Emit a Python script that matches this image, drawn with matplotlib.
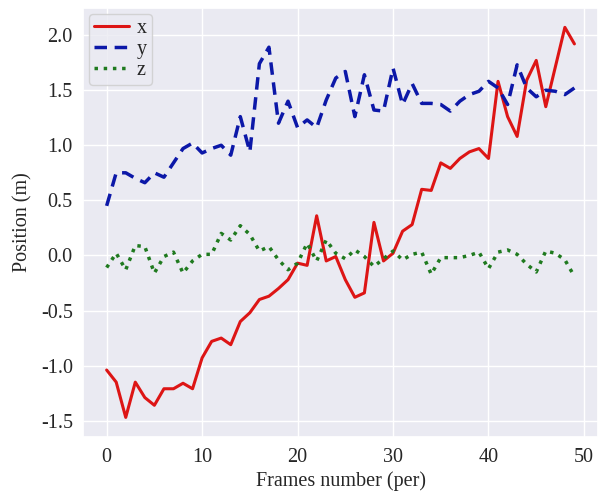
import matplotlib
matplotlib.use("Agg")
import matplotlib.pyplot as plt
import numpy as np
import seaborn as sns

# position of the tracked point per frame
frames = np.arange(50)
pos_x = [-1.04, -1.15, -1.47, -1.15, -1.29, -1.36, -1.21, -1.21, -1.16, -1.21,
         -0.93, -0.78, -0.75, -0.81, -0.60, -0.52, -0.40, -0.37, -0.30, -0.22,
         -0.07, -0.09, 0.36, -0.05, -0.01, -0.22, -0.38, -0.34, 0.30, -0.05,
         0.02, 0.22, 0.28, 0.60, 0.59, 0.84, 0.79, 0.88, 0.94, 0.97,
         0.88, 1.58, 1.26, 1.08, 1.59, 1.77, 1.35, 1.71, 2.07, 1.92]
pos_y = [0.45, 0.75, 0.75, 0.70, 0.66, 0.75, 0.71, 0.84, 0.97, 1.02,
         0.93, 0.97, 1.00, 0.91, 1.26, 0.94, 1.74, 1.89, 1.20, 1.40,
         1.16, 1.23, 1.16, 1.41, 1.61, 1.67, 1.26, 1.64, 1.32, 1.31,
         1.70, 1.37, 1.56, 1.38, 1.38, 1.37, 1.31, 1.40, 1.46, 1.49,
         1.58, 1.52, 1.37, 1.73, 1.52, 1.44, 1.50, 1.49, 1.46, 1.52]
pos_z = [-0.11, 0.02, -0.13, 0.09, 0.08, -0.16, -0.01, 0.03, -0.16, -0.05,
         0.01, 0.01, 0.20, 0.14, 0.27, 0.19, 0.04, 0.08, -0.04, -0.13,
         -0.07, 0.11, -0.05, 0.14, 0.02, -0.03, 0.05, -0.01, -0.10, -0.03,
         0.04, -0.04, 0.01, 0.03, -0.17, -0.02, -0.02, -0.02, 0.00, 0.03,
         -0.12, 0.03, 0.05, 0.01, -0.08, -0.15, 0.04, 0.02, -0.04, -0.19]

sns.set_theme(style="darkgrid")
plt.rcParams['font.family'] = ['Liberation Serif', 'DejaVu Serif']
plt.rcParams['axes.unicode_minus'] = False

fig = plt.figure(figsize=(5.99, 4.92), dpi=100)
ax = fig.add_axes([0.139, 0.112, 0.859, 0.872])

ax.plot(frames, pos_x, color='#dd1515', lw=2.2, label='x')
ax.plot(frames, pos_y, color='#0c18a8', lw=2.5, ls='--', dashes=(3.6, 2.2), label='y')
ax.plot(frames, pos_z, color='#1f7a1f', lw=2.5, ls=':', label='z')

ax.set_xlabel('Frames number (per)', fontsize=14.5, labelpad=3)
ax.set_ylabel('Position (m)', fontsize=14.5, labelpad=6)
ax.tick_params(axis='x', labelsize=14.5, pad=2)
ax.tick_params(axis='y', labelsize=14.5, pad=1.5)
ax.legend(loc='upper left', fontsize=14.5, handlelength=1.7, handletextpad=0.4,
          borderaxespad=0.3, labelspacing=0.1, borderpad=0.25)

fig.savefig('out.png', dpi=100)
